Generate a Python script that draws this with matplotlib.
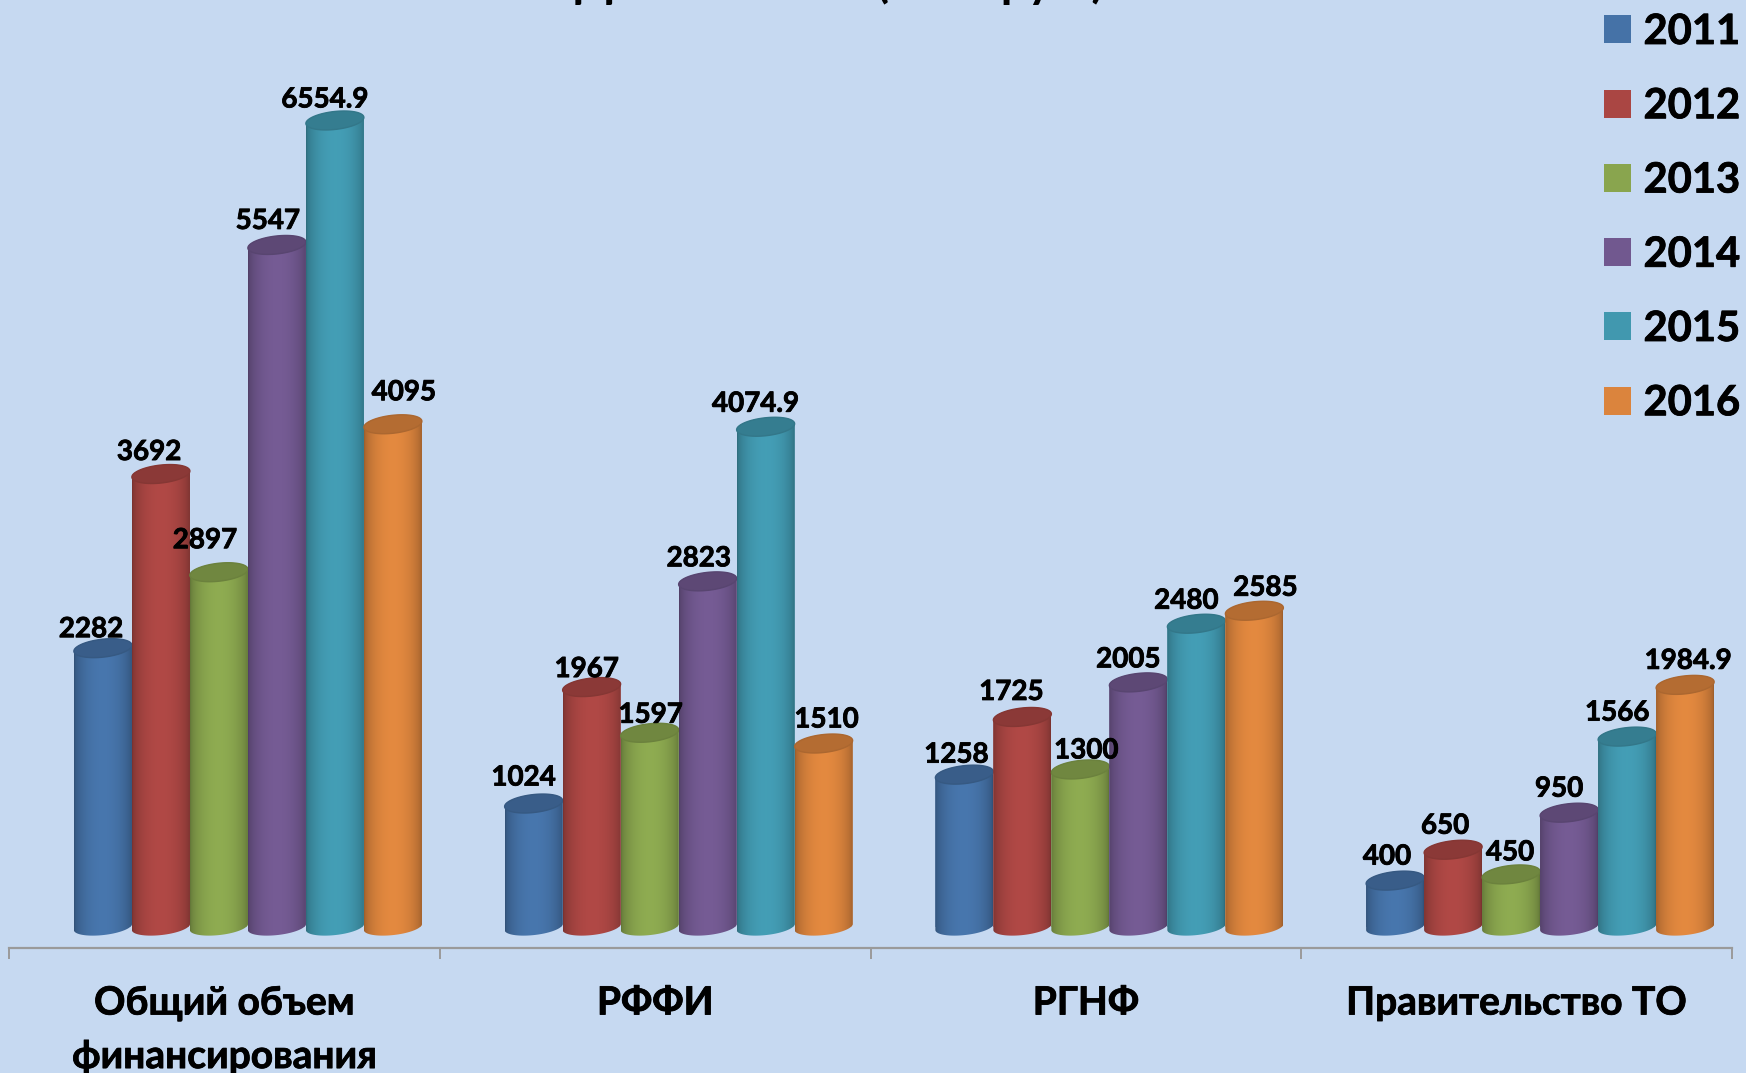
import numpy as np
import matplotlib
matplotlib.use("Agg")
import matplotlib.pyplot as plt
import matplotlib.patheffects as pe
from matplotlib.patches import Polygon

categories = ["Общий объем\nфинансирования", "РФФИ", "РГНФ", "Правительство ТО"]
years = ["2011", "2012", "2013", "2014", "2015", "2016"]

v2011 = [2282, 1024, 1258, 400]
v2012 = [3692, 1967, 1725, 650]
v2013 = [2897, 1597, 1300, 450]
v2014 = [5547, 2823, 2005, 950]
v2015 = [6554.9, 4074.9, 2480, 1566]
v2016 = [4095, 1510, 2585, 1984.9]
series = [v2011, v2012, v2013, v2014, v2015, v2016]

colors = ["#4572A7", "#AA4643", "#89A54E", "#71588F", "#4198AF", "#DB843D"]
bg = "#C6D9F1"

# сдвиги подписей над столбцами, в пикселях (x, y)
label_dx = [[-12, -10, -8, -8], [-12, -5, -11, -8], [-14, 1, 6, -1],
            [-9, -9, -10, -10], [-10, -10, -10, -10], [11, 3, 11, 3]]
label_dy = [[16, 23, 17, 21], [19, 15, 22, 21], [29, 15, 16, 19],
            [21, 20, 20, 21], [18, 20, 20, 21], [29, 21, 20, 21]]

plt.rcParams["font.family"] = ["Lato", "DejaVu Sans"]
plt.rcParams["font.weight"] = "bold"

# Lato светлее оригинала, поэтому немного обводим текст
heavy = [pe.withStroke(linewidth=0.6, foreground="black")]

W, H = 1746, 1073
fig = plt.figure(figsize=(W / 100, H / 100), dpi=100, facecolor=bg)
ax = fig.add_axes([9 / W, 125 / H, 1723 / W, 948 / H], facecolor=bg)

px_per_unit = 0.1235
bar_w = 58 / (1723 / 4)
shift = 23.5 / (1723 / 4)
ry = 9 / px_per_unit
tilt = 3 / px_per_unit
cap_drop = 3 / px_per_unit
t = np.linspace(0, 2 * np.pi, 121)

for i, vals in enumerate(series):
    xs = np.arange(4) + 0.5 + shift + (i - 2.5) * bar_w
    bars = ax.bar(xs, vals, bar_w, color=colors[i], label=years[i], zorder=2 + i)
    base = np.array(matplotlib.colors.to_rgb(colors[i]))
    u = np.linspace(0, 1, 64)
    shade = 0.72 + 0.32 * np.sin(np.pi * u) ** 0.55
    grad = np.clip(base[None, None, :] * shade[None, :, None], 0, 1)
    for b, v in zip(bars, vals):
        cx = b.get_x() + b.get_width() / 2
        rx = b.get_width() / 2
        top = v - cap_drop
        # нижняя дуга, затем верхняя: тело цилиндра
        tb = np.linspace(np.pi, 2 * np.pi, 40)
        tt = np.linspace(0, np.pi, 40)
        bx = cx + rx * np.cos(tb)
        by = ry * 0.9 * np.sin(tb) + tilt * np.cos(tb)
        ux = cx + rx * np.cos(tt)
        uy = top + ry * np.sin(tt) + tilt * np.cos(tt)
        body = Polygon(np.column_stack([np.r_[bx, ux], np.r_[by, uy]]),
                       closed=True, fc="none", ec="none", zorder=2 + i)
        ax.add_patch(body)
        b.set_clip_path(body)
        im = ax.imshow(grad, extent=[cx - rx, cx + rx, -2 * ry, v + 2 * ry],
                       aspect="auto", zorder=2 + i, interpolation="bilinear")
        im.set_clip_path(body)
        cap = np.column_stack([cx + rx * np.cos(t), top + ry * np.sin(t) + tilt * np.cos(t)])
        ax.add_patch(Polygon(cap, closed=True, fc=base * 0.82, ec=base * 0.78, lw=1, zorder=2 + i))

for i, vals in enumerate(series):
    xs = np.arange(4) + 0.5 + shift + (i - 2.5) * bar_w
    for j, v in enumerate(vals):
        ax.annotate(str(v), (xs[j], v), xytext=(label_dx[i][j], label_dy[i][j]),
                    textcoords="offset pixels", ha="center", va="center",
                    fontsize=20, color="black", zorder=20, path_effects=heavy)

ax.set_xlim(0, 4)
ax.set_ylim(-21 / px_per_unit, 927 / px_per_unit)

for s in ["top", "left", "right"]:
    ax.spines[s].set_visible(False)
ax.spines["bottom"].set_color("#9A9A9A")
ax.spines["bottom"].set_linewidth(1.6)
ax.set_yticks([])
ax.set_xticks(range(5))
ax.set_xticklabels([])
ax.tick_params(axis="x", which="major", length=8, width=1.4, color="#9A9A9A")
ax.set_xticks(np.arange(4) + 0.5, categories, minor=True)
ax.tick_params(axis="x", which="minor", length=0, pad=27, labelsize=28)
for lab in ax.get_xticklabels(minor=True):
    lab.set_linespacing(1.64)
    lab.set_va("top")
    lab.set_path_effects(heavy)

leg = fig.legend(loc="upper right", bbox_to_anchor=(1740 / W, 1 - 13 / H), fontsize=30,
                 frameon=False, handlelength=0.65, handleheight=0.65, handletextpad=0.3,
                 labelspacing=0.87, borderpad=0, borderaxespad=0)
for txt in leg.get_texts():
    txt.set_path_effects(heavy)

# заголовок срезан верхним краем кадра, видны только нижние выносные элементы
fig.text(575 / W, 1 + 3 / H, "Данные НИР (млн. руб.)", fontsize=34, ha="left", va="baseline")

fig.savefig("out.png", dpi=100, facecolor=bg)
